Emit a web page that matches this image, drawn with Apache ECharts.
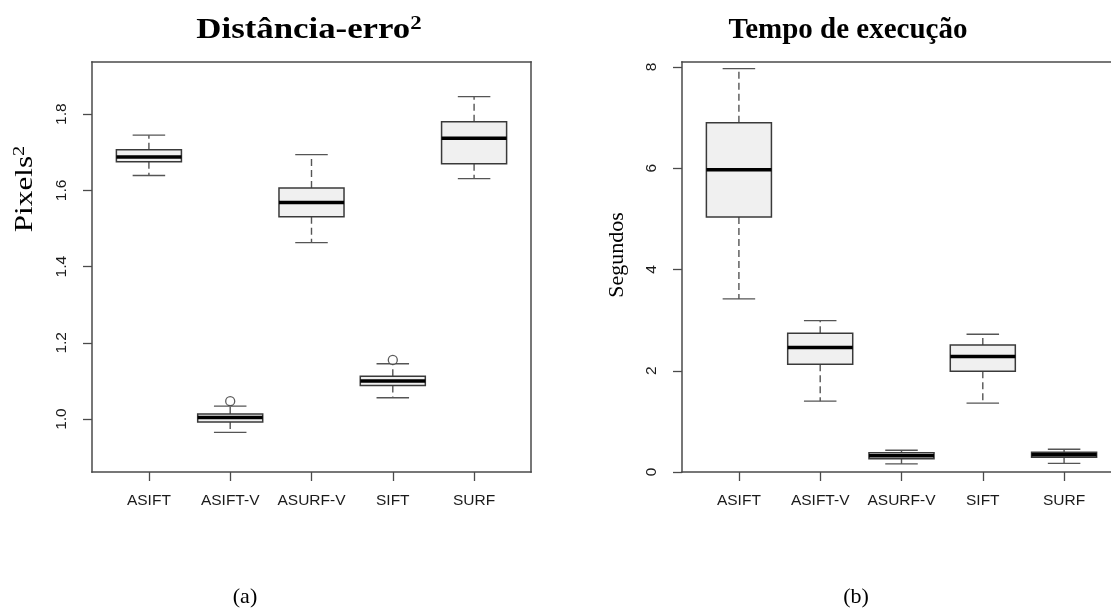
<!DOCTYPE html>
<html>
<head>
<meta charset="utf-8">
<script src="https://cdn.jsdelivr.net/npm/echarts@6/dist/echarts.min.js"></script>
<style>
  html, body { margin: 0; padding: 0; background: #fff; }
  #chart { width: 1111px; height: 612px; }
</style>
</head>
<body>
<div id="chart"></div>
<script>
// Methods compared in both panels
const categories = ['ASIFT', 'ASIFT-V', 'ASURF-V', 'SIFT', 'SURF'];

// Panel (a): squared distance error, five-number summaries per method
const distLow    = [1.639, 0.965, 1.463, 1.056, 1.631];
const distQ1     = [1.675, 0.992, 1.531, 1.088, 1.670];
const distMedian = [1.688, 1.004, 1.568, 1.100, 1.737];
const distQ3     = [1.707, 1.013, 1.606, 1.112, 1.780];
const distHigh   = [1.745, 1.034, 1.694, 1.145, 1.846];
const distOutlierCategory = ['ASIFT-V', 'SIFT'];
const distOutlierValue    = [1.047, 1.155];
const distTicks = [1.0, 1.2, 1.4, 1.6, 1.8];

// Panel (b): execution time in seconds
const timeLow    = [3.42, 1.40, 0.16, 1.36, 0.17];
const timeQ1     = [5.04, 2.13, 0.26, 1.99, 0.29];
const timeMedian = [5.97, 2.46, 0.32, 2.28, 0.34];
const timeQ3     = [6.90, 2.74, 0.38, 2.51, 0.39];
const timeHigh   = [7.97, 2.99, 0.43, 2.72, 0.45];
const timeTicks = [0, 2, 4, 6, 8];

const catPositions = categories.map((c, i) => i + 1);

const SANS = '"Liberation Sans", Arial, sans-serif';
const SERIF = '"Liberation Serif", "Times New Roman", serif';
const FRAME = '#4a4a4a';
const frameLine = { show: true, onZero: false, lineStyle: { color: FRAME, width: 1.5, cap: 'square' } };

function boxData(low, q1, med, q3, high) {
  return categories.map((c, i) => [i + 1, low[i], q1[i], med[i], q3[i], high[i]]);
}

// Draws one R-style box: dashed whiskers, end caps, filled box, thick median
function renderBox(params, api) {
  const x = api.value(0);
  const pLow = api.coord([x, api.value(1)]);
  const pQ1 = api.coord([x, api.value(2)]);
  const pMed = api.coord([x, api.value(3)]);
  const pQ3 = api.coord([x, api.value(4)]);
  const pHigh = api.coord([x, api.value(5)]);
  const cx = pMed[0];
  const half = api.size([0.4, 0])[0];
  const capHalf = api.size([0.2, 0])[0];
  const whiskerStyle = { stroke: '#555', lineWidth: 1.4, lineDash: [7, 4] };
  const capStyle = { stroke: '#555', lineWidth: 1.4 };
  return {
    type: 'group',
    children: [
      { type: 'line', shape: { x1: cx, y1: pQ3[1], x2: cx, y2: pHigh[1] }, style: whiskerStyle },
      { type: 'line', shape: { x1: cx, y1: pQ1[1], x2: cx, y2: pLow[1] }, style: whiskerStyle },
      { type: 'line', shape: { x1: cx - capHalf, y1: pHigh[1], x2: cx + capHalf, y2: pHigh[1] }, style: capStyle },
      { type: 'line', shape: { x1: cx - capHalf, y1: pLow[1], x2: cx + capHalf, y2: pLow[1] }, style: capStyle },
      { type: 'rect', shape: { x: cx - half, y: pQ3[1], width: half * 2, height: pQ1[1] - pQ3[1] },
        style: { fill: '#f0f0f0', stroke: '#3a3a3a', lineWidth: 1.5 } },
      { type: 'line', shape: { x1: cx - half, y1: pMed[1], x2: cx + half, y2: pMed[1] },
        style: { stroke: '#000', lineWidth: 3.5 } }
    ]
  };
}

function xAxesFor(gridIndex) {
  return [
    {
      type: 'value', gridIndex: gridIndex, position: 'bottom', min: 0.3, max: 5.7,
      axisLine: frameLine,
      splitLine: { show: false },
      axisTick: { show: true, customValues: catPositions, length: 9, lineStyle: { color: FRAME, width: 1.3 } },
      axisLabel: {
        customValues: catPositions, margin: 21, fontFamily: SANS, fontSize: 15.5, color: '#1a1a1a',
        formatter: v => categories[Math.round(v) - 1]
      }
    },
    {
      // top edge of the plot frame
      type: 'value', gridIndex: gridIndex, position: 'top', min: 0.3, max: 5.7,
      axisLine: frameLine, axisTick: { show: false }, axisLabel: { show: false }, splitLine: { show: false }
    }
  ];
}

function yAxesFor(gridIndex, min, max, ticks, digits) {
  return [
    {
      type: 'value', gridIndex: gridIndex, position: 'left', min: min, max: max,
      axisLine: frameLine,
      splitLine: { show: false },
      axisTick: { show: true, customValues: ticks, length: 9, lineStyle: { color: FRAME, width: 1.3 } },
      axisLabel: {
        customValues: ticks, rotate: 90, margin: 22, fontFamily: SANS, fontSize: 15.5, color: '#1a1a1a',
        formatter: v => Number(v).toFixed(digits)
      }
    },
    {
      // right edge of the plot frame
      type: 'value', gridIndex: gridIndex, position: 'right', min: min, max: max,
      axisLine: frameLine, axisTick: { show: false }, axisLabel: { show: false }, splitLine: { show: false }
    }
  ];
}

// Text with a raised, smaller "2" exponent
function supText(base, x, y, size, supSize, bold, rotation, scaleX) {
  const weight = bold ? 'bold ' : '';
  return {
    type: 'text', x: x, y: y, rotation: rotation || 0, scaleX: scaleX || 1,
    style: {
      text: base + '{sup|2}',
      font: weight + size + 'px ' + SERIF,
      fill: '#000', textAlign: 'center', textVerticalAlign: 'middle',
      lineHeight: size * 1.1,
      rich: {
        sup: { font: weight + supSize + 'px ' + SERIF, fill: '#000', verticalAlign: 'top', lineHeight: size * 1.1 }
      }
    }
  };
}

const chart = echarts.init(document.getElementById('chart'), null, { renderer: 'canvas' });

chart.setOption({
  animation: false,
  backgroundColor: '#fff',
  grid: [
    { left: 92, top: 62, width: 439, height: 410, outerBoundsMode: 'none', containLabel: false },
    { left: 682, top: 62, width: 439, height: 410, outerBoundsMode: 'none', containLabel: false }
  ],
  xAxis: xAxesFor(0).concat(xAxesFor(1)),
  yAxis: yAxesFor(0, 0.861, 1.937, distTicks, 1).concat(yAxesFor(1, 0, 8.1, timeTicks, 0)),
  series: [
    {
      type: 'custom', xAxisIndex: 0, yAxisIndex: 0,
      data: boxData(distLow, distQ1, distMedian, distQ3, distHigh),
      encode: { x: 0, y: [1, 2, 3, 4, 5] },
      renderItem: renderBox
    },
    {
      type: 'scatter', xAxisIndex: 0, yAxisIndex: 0,
      symbol: 'circle', symbolSize: 9,
      itemStyle: { color: '#fff', borderColor: '#333', borderWidth: 1.3 },
      data: distOutlierCategory.map((c, i) => [categories.indexOf(c) + 1, distOutlierValue[i]])
    },
    {
      type: 'custom', xAxisIndex: 2, yAxisIndex: 2,
      data: boxData(timeLow, timeQ1, timeMedian, timeQ3, timeHigh),
      encode: { x: 0, y: [1, 2, 3, 4, 5] },
      renderItem: renderBox
    }
  ],
  graphic: [
    supText('Distância-erro', 309, 31, 29, 19, true, 0, 1.2),
    { type: 'text', x: 848, y: 31, style: { text: 'Tempo de execução', font: 'bold 29px ' + SERIF, fill: '#000', textAlign: 'center', textVerticalAlign: 'middle' } },
    supText('Pixels', 25, 189, 26, 17, false, Math.PI / 2, 1.2),
    { type: 'text', x: 617, y: 255, rotation: Math.PI / 2, style: { text: 'Segundos', font: '22px ' + SERIF, fill: '#000', textAlign: 'center', textVerticalAlign: 'middle' } },
    { type: 'text', x: 245, y: 597, style: { text: '(a)', font: '22px ' + SERIF, fill: '#000', textAlign: 'center', textVerticalAlign: 'middle' } },
    { type: 'text', x: 856, y: 597, style: { text: '(b)', font: '22px ' + SERIF, fill: '#000', textAlign: 'center', textVerticalAlign: 'middle' } }
  ]
});
</script>
</body>
</html>
